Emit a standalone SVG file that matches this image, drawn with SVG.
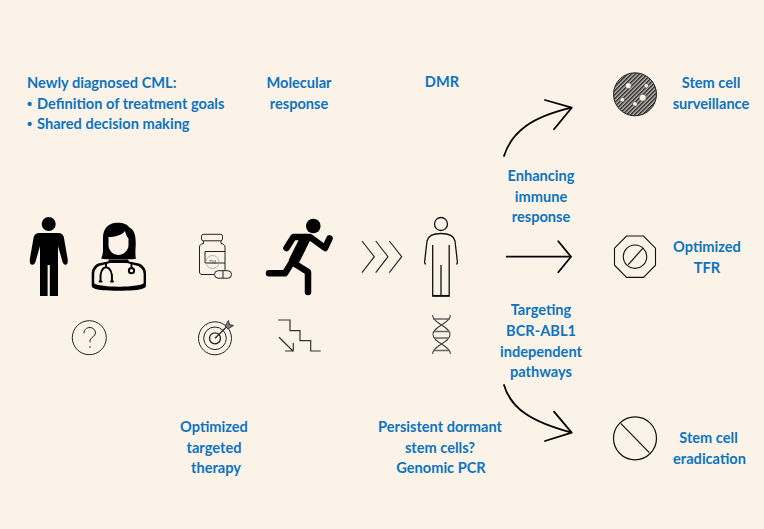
<svg xmlns="http://www.w3.org/2000/svg" width="764" height="529" viewBox="0 0 764 529">
<style>
.t{font-family:"Lato","Open Sans",sans-serif;font-weight:700;font-size:14.6px;fill:#0c74c0;stroke:none}
.b{font-family:"Liberation Sans",sans-serif;font-weight:700;font-size:14.6px;fill:#0c74c0}
.m{text-anchor:middle}
.fill{fill:#000;stroke:none}
.ln{fill:none;stroke:#000;stroke-linecap:round;stroke-linejoin:round}
.conn{fill:none;stroke:#000;stroke-width:1.800;stroke-linecap:round;stroke-linejoin:round}
</style>
<defs>
<pattern id="hatch" width="2.830" height="2.830" patternUnits="userSpaceOnUse" patternTransform="rotate(-45)">
<rect width="2.830" height="2.830" fill="#c9c6c0"/>
<rect width="2.830" height="1.500" fill="#2a2a2a"/>
</pattern>
</defs>
<rect width="764" height="529" fill="#fcf3e8"/>

<g id="intro-text">
<text class="t" x="27" y="88">Newly diagnosed CML:</text>
<text class="b" x="27" y="109">•</text><text class="t" x="37" y="109">Definition of treatment goals</text>
<text class="b" x="27" y="129">•</text><text class="t" x="37" y="129">Shared decision making</text>
</g>
<g id="molecular-response"><text class="t m" x="299" y="88">Molecular</text><text class="t m" x="299" y="109">response</text></g>
<g id="dmr"><text class="t m" x="442" y="87">DMR</text></g>

<g id="patient">
<circle class="fill" cx="48.700" cy="224" r="7"/>
<path class="fill" d="M39 233H58.500Q62.500 233 63.800 237L67.700 259.500Q68.200 264.800 65.500 264.800Q63.300 264.800 62.300 261L58 246V296H49.800V265H47.600V296H40V246L35.700 261Q34.800 264.800 32.300 264.800Q29.400 264.800 29.800 259.500L33.700 237Q35 233 39 233Z"/>
</g>

<g id="doctor">
<!-- hair -->
<path class="fill" d="M117 222.700C108 222.700 103 229 103 238V250C103 254 102 257 101 258.500C106 259.500 112 259.300 116 259.300H125C129 259.300 133 259.500 136 258.500C135 255 135.500 250 135.700 245C136 236 134.500 230 130 228C127 224 123 222.700 117 222.700Z"/>
<!-- face -->
<path d="M108.500 237C115 237 122 235 125 231C126 235 127.500 237.500 128.500 238.500V245C128.500 251 123 255 118.500 255C113.500 255 108.500 251 108.500 245Z" fill="#fcf3e8"/>
<!-- shoulders -->
<path class="fill" d="M109 259.500H128L129 261.500L139 263.500C144 265.500 146 269 146 274V285C146 288 144 290.700 118.500 290.700C93 290.700 91.700 288 91.700 285V274C91.700 269 94 265.500 98 263.500L108 261.500Z"/>
<path d="M110 263H127L138 266C141.600 268 143.600 270 143.600 275V283C143.600 285 131 286.700 118.500 286.700C106 286.700 94.200 285 94.200 283V275C94.200 270 96 268 99 266Z" fill="#fcf3e8"/>
<path class="ln" stroke-width="1.900" d="M106 263.500V267C101.500 268 100 272 100.500 280.500M106 267C111 268 112.500 272 112 280.500M131.500 263V267"/>
<path class="ln" stroke-width="1.900" d="M99.500 281.500H101.500M111 281.500H113"/>
<circle cx="131.500" cy="270.700" r="2.600" fill="none" stroke="#000" stroke-width="2"/>
</g>

<g id="question" fill="none" stroke="#222">
<circle cx="89.300" cy="337.700" r="17" stroke-width="1"/>
<path d="M84 333C84 329 87 327.500 90 327.500C93 327.500 95.500 330 95.500 333C95.500 336 91 337.500 90 340V342" stroke-width="1" stroke-linecap="round"/>
<circle cx="90" cy="347" r=".8" fill="#222" stroke="none"/>
</g>

<g id="medication" fill="none" stroke="#222" stroke-width="1">
<rect x="201.500" y="234.300" width="21" height="6.500" rx="2"/>
<path d="M203.500 241V243.500C201 244 199.500 245 199.500 247V272C199.500 273.500 200.500 274.500 202 274.500H214M221 241V243.500C223.500 244 225 245 225 247V270"/>
<path d="M205 251.500H225M205 251.500V263H225"/>
<circle cx="212.500" cy="262" r="6.500" stroke="#999" stroke-width=".7"/>
<text x="212.500" y="264" text-anchor="middle" font-family="Liberation Sans, sans-serif" font-size="5" fill="#555" stroke="none">TM</text>
<rect x="214.500" y="270.700" width="17" height="7.500" rx="3.700"/>
<path d="M223 270.700V278.200"/>
</g>

<g id="target" fill="none" stroke="#222">
<circle cx="215" cy="338.300" r="16.500"/>
<circle cx="215" cy="338.300" r="11.300"/>
<circle cx="215" cy="338.300" r="5.500" stroke-width="1.300"/>
<path d="M215 338.300L229 324.500" stroke-width="1.200"/>
<path d="M225 326L228.500 320.500L229.500 324.500L233.500 325.500L228 329Z" fill="#777" stroke-width=".8"/>
</g>

<g id="runner">
<circle class="fill" cx="313.300" cy="226" r="7.300"/>
<path class="ln" stroke-width="6.500" d="M286.500 248L293.500 237H310L325 248L329.500 238.500"/>
<path class="ln" stroke-width="10.500" d="M305 239L294 261"/>
<path class="ln" stroke-width="6.500" d="M269 273.300H285L292 262L308 272V292"/>
</g>

<g id="steps" fill="none" stroke="#333" stroke-width="1.200">
<path d="M278.300 320H290V330.700H300V340.700H310.700V351H320.700"/>
<path d="M279 337.300L293 351M285 351H293.300V343"/>
</g>

<g id="chevrons" fill="none" stroke="#222" stroke-width="1.100">
<path d="M362 241L374.300 256.700L362 272.700"/>
<path d="M375.700 241L388 256.700L375.700 272.700"/>
<path d="M389.300 241L401.700 256.700L389.300 272.700"/>
</g>

<g id="outline-person" fill="none" stroke="#111" stroke-width="1.300">
<circle cx="441" cy="224" r="6.500"/>
<path d="M432.700 245V296H449.200V245"/>
<path d="M425.800 264C424.800 264 424.500 263 424.700 261L427 241C428 236 433 233.500 441 233.500C449 233.500 454 236 455 241L457.300 261C457.500 263 457.200 264 456.200 264"/>
<path d="M441 265V296"/>
<path d="M432.500 295.700H449.500" stroke-width="1.500"/>
</g>

<g id="dna" fill="none" stroke="#444" stroke-width="1.100">
<path d="M432.500 315C433 324 450 326 450 334.500C450 343 433 345 432.500 354"/>
<path d="M450.500 315C450 324 433 326 433 334.500C433 343 450 345 450.500 354"/>
<path d="M433 319H450M434 331.500H449M434 338H449M433 350.500H450" stroke-width="1.300" stroke="#666"/>
</g>

<g id="connectors">
<path class="conn" d="M504 156C512 131 532 117 571.700 107.700M545 100L571.700 107.700L554 129.300"/>
<path class="conn" d="M506.700 256.700H571M558.300 241.300L571 256.700L558.300 272.300"/>
<path class="conn" d="M504 385C511 409 532 422 571.700 432.700M554 411.700L571.700 432.700L545 441"/>
</g>

<g id="immune-label"><text class="t m" x="541" y="181">Enhancing</text><text class="t m" x="541" y="202">immune</text><text class="t m" x="541" y="222">response</text></g>
<g id="pathways-label"><text class="t m" x="541" y="315">Targeting</text><text class="t m" x="541" y="336">BCR-ABL1</text><text class="t m" x="541" y="357">independent</text><text class="t m" x="541" y="377">pathways</text></g>
<g id="therapy-label"><text class="t m" x="214" y="432">Optimized</text><text class="t m" x="214" y="453">targeted</text><text class="t m" x="216" y="473">therapy</text></g>
<g id="dormant-label"><text class="t m" x="440" y="432">Persistent dormant</text><text class="t m" x="440" y="453">stem cells?</text><text class="t m" x="441" y="473">Genomic PCR</text></g>

<g id="surveillance">
<circle cx="635" cy="94.300" r="21.500" fill="url(#hatch)" stroke="#222" stroke-width="1"/>
<g fill="#fcf3e8" stroke="#333" stroke-width=".5">
<circle cx="628.300" cy="85.700" r="3"/><circle cx="646.300" cy="85.700" r="2.200"/><circle cx="642.700" cy="97.700" r="3.500"/><circle cx="635" cy="104" r="2.300"/><circle cx="622.300" cy="99.700" r="2.300"/>
</g>
<text class="t m" x="711" y="88">Stem cell</text><text class="t m" x="711" y="109">surveillance</text>
</g>

<g id="tfr" fill="none" stroke="#111" stroke-width="1.100">
<path d="M626.500 236H643.500L655.500 248.200V265.200L643.500 277.400H626.500L614.500 265.200V248.200Z"/>
<circle cx="635" cy="256.700" r="11.700"/>
<path d="M628.300 264.700L642.700 248.300" stroke-width="1.200"/>
<text class="t m" x="707" y="252">Optimized</text><text class="t m" x="707" y="273">TFR</text>
</g>

<g id="eradication" fill="none" stroke="#111" stroke-width="1.200">
<circle cx="635" cy="438.300" r="21.500"/>
<path d="M620.700 423.300L649.300 452.700"/>
<text class="t m" x="708.500" y="443">Stem cell</text><text class="t m" x="709.500" y="464">eradication</text>
</g>
</svg>
